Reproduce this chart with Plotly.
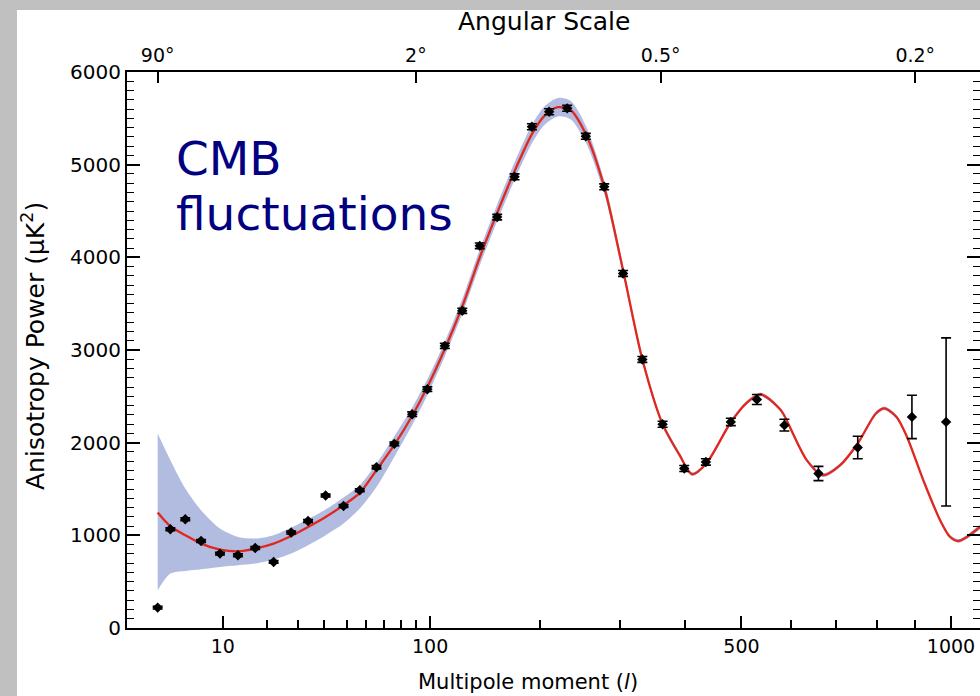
import plotly.graph_objects as go

# ---------------- data ----------------
data_l = [2, 3, 4.5, 6.5, 9.5, 13, 17, 22, 27.5, 33.5, 40.5, 48.5, 56.5, 65.5, 76,
          87.5, 98, 111, 125, 140, 156, 173, 191, 210, 231, 254, 278, 304, 332, 363,
          398, 435, 480, 530, 586, 660, 752, 891, 986]
data_v = [220, 1066, 1174, 939, 803, 785, 864, 713, 1030, 1155, 1430, 1317, 1487, 1735, 1987,
          2307, 2577, 3045, 3423, 4124, 4434, 4869, 5409, 5571, 5608, 5306, 4761, 3826, 2898, 2199,
          1721, 1792, 2224, 2466, 2189, 1667, 1948, 2278, 2224]
data_err = [15, 15, 15, 15, 15, 15, 15, 15, 15, 15, 15, 15, 15, 18, 20,
            25, 25, 28, 28, 30, 30, 32, 32, 32, 32, 32, 32, 32, 32, 32,
            32, 34, 40, 54, 63, 77, 122, 234, 907]

curve_l = [2, 3, 4.5, 6.5, 9.5, 13, 17, 22, 27.5, 33.5, 40.5, 48.5, 56.5, 65.5, 76,
           87.5, 98, 111, 125, 140, 156, 173, 191, 205, 220, 235, 254, 278, 304, 332,
           363, 390, 411, 435, 480, 510, 538, 577, 586, 634, 670, 710, 752, 797, 819,
           850, 877, 922, 969, 997, 1022, 1047, 1086]
curve_v = [1246, 1098, 1001, 911, 846, 828, 857, 911, 993, 1090, 1198, 1325, 1458, 1703, 1975,
           2290, 2600, 3010, 3470, 4000, 4480, 4930, 5330, 5530, 5620, 5590, 5330, 4760, 3860, 2900,
           2200, 1870, 1660, 1770, 2220, 2430, 2520, 2360, 2290, 1811, 1649, 1757, 1991, 2315, 2369,
           2278, 2070, 1595, 1163, 985, 939, 983, 1090]
band_hi = [2099, 1811, 1505, 1271, 1073, 983, 965, 1001, 1084, 1174, 1278, 1408, 1541, 1775, 2070,
           2380, 2685, 3090, 3550, 4085, 4570, 5025, 5430, 5630, 5720, 5690, 5420, 4830, 3910, 2940,
           2230, 1895, 1680, 1790, 2240, 2450, 2540, 2380, 2310, 1830, 1668, 1777, 2011, 2335, 2389,
           2298, 2090, 1615, 1183, 1005, 959, 1003, 1110]
band_lo = [407, 587, 615, 634, 659, 677, 695, 738, 803, 893, 1001, 1127, 1289, 1522, 1846,
           2190, 2515, 2930, 3390, 3915, 4390, 4835, 5230, 5430, 5520, 5490, 5240, 4690, 3810, 2860,
           2170, 1845, 1640, 1750, 2200, 2410, 2500, 2340, 2270, 1791, 1629, 1737, 1971, 2295, 2349,
           2258, 2050, 1575, 1143, 965, 919, 963, 1070]

bottom_major = [10, 100, 500, 1000]
bottom_major_text = ["10", "100", "500", "1000"]
bottom_minor = [20, 30, 40, 50, 60, 70, 80, 90, 200, 300, 400, 600, 700, 800, 900]
top_l = [2, 90, 360, 900]
top_text = ["90°", "2°", "0.5°", "0.2°"]
y_major = [0, 1000, 2000, 3000, 4000, 5000, 6000]
l_range = [0.5, 1086]

# ---------------- axis scale (multipole axis is linear in l^0.4) ----------------
P = 0.4
def sx(l):
    return l ** P

# ---------------- layout geometry ----------------
W, H = 980, 696
ML, MR, MT, MB = 127, 0, 72, 68
PW, PH = W - ML - MR, H - MT - MB
def px_x(px):
    return (px - ML) / PW
def px_y(py):
    return (H - MB - py) / PH

FONT = "DejaVu Sans"
GRAY = "#c0c0c0"
NBSP = "\u00a0"

fig = go.Figure()

# cosmic-variance band
band_x = [sx(l) for l in curve_l] + [sx(l) for l in curve_l[::-1]]
band_y = band_hi + band_lo[::-1]
fig.add_trace(go.Scatter(x=band_x, y=band_y, mode="lines", fill="toself",
                         fillcolor="rgb(178,187,224)", line=dict(width=0, shape="spline", smoothing=0.8),
                         hoverinfo="skip", showlegend=False))

# model curve
fig.add_trace(go.Scatter(x=[sx(l) for l in curve_l], y=curve_v, mode="lines",
                         line=dict(color="#e0281e", width=2.3, shape="spline", smoothing=0.8),
                         showlegend=False))

# data points
fig.add_trace(go.Scatter(x=[sx(l) for l in data_l], y=data_v, mode="markers",
                         marker=dict(symbol="diamond", size=8, color="black"),
                         error_y=dict(type="data", array=data_err, visible=True,
                                      color="black", thickness=1.6, width=5),
                         showlegend=False))

# dummy trace on the top (angular scale) axis
fig.add_trace(go.Scatter(x=[sx(l_range[0])], y=[None], xaxis="x2", yaxis="y",
                         mode="markers", showlegend=False, hoverinfo="skip"))

xr = [sx(l_range[0]), sx(l_range[1])]

fig.update_layout(
    template="none",
    width=W, height=H,
    margin=dict(l=ML, r=MR, t=MT, b=MB, pad=0),
    paper_bgcolor="white",
    plot_bgcolor="white",
    font=dict(family=FONT, color="black"),
    showlegend=False,
    xaxis=dict(range=xr, tickmode="array",
               tickvals=[sx(v) for v in bottom_major], ticktext=bottom_major_text,
               ticks="inside", ticklen=12, tickwidth=1.6, tickcolor="black",
               showline=True, linecolor="black", linewidth=2, mirror=False,
               showgrid=False, zeroline=False, tickfont=dict(size=19, family=FONT),
               minor=dict(tickvals=[sx(v) for v in bottom_minor], ticks="inside",
                          ticklen=8, tickwidth=1.6, tickcolor="black", showgrid=False)),
    xaxis2=dict(range=xr, overlaying="x", side="top", anchor="y", tickmode="array",
                tickvals=[sx(v) for v in top_l], ticktext=top_text,
                ticks="inside", ticklen=11, tickwidth=1.6, tickcolor="black",
                showline=True, linecolor="black", linewidth=2,
                showgrid=False, zeroline=False, tickfont=dict(size=19, family=FONT)),
    yaxis=dict(range=[0, 6000], tickmode="array", tickvals=y_major,
               ticktext=[str(v) for v in y_major], ticksuffix=NBSP * 3,
               ticks="inside", ticklen=13, tickwidth=1.6, tickcolor="black",
               showline=True, linecolor="black", linewidth=2, mirror="ticks",
               showgrid=False, zeroline=False, tickfont=dict(size=20, family=FONT),
               minor=dict(dtick=100, ticks="inside", ticklen=7, tickwidth=1.4,
                          tickcolor="black", showgrid=False)),
    shapes=[
        dict(type="rect", xref="paper", yref="paper", layer="above",
             x0=px_x(-5), x1=px_x(17), y0=px_y(H + 5), y1=px_y(-5),
             fillcolor=GRAY, line=dict(width=0)),
        dict(type="rect", xref="paper", yref="paper", layer="above",
             x0=px_x(-5), x1=px_x(W + 5), y0=px_y(10), y1=px_y(-5),
             fillcolor=GRAY, line=dict(width=0)),
    ],
    annotations=[
        dict(text="Angular Scale", x=px_x(544), y=px_y(22), xref="paper", yref="paper",
             xanchor="center", yanchor="middle", showarrow=False,
             font=dict(size=25, family=FONT, color="black")),
        dict(text="Multipole moment (<i>l</i>)", x=px_x(528), y=px_y(682), xref="paper", yref="paper",
             xanchor="center", yanchor="middle", showarrow=False,
             font=dict(size=21, family=FONT, color="black")),
        dict(text="Anisotropy Power (µK<sup>2</sup>)", x=px_x(33), y=px_y(346),
             xref="paper", yref="paper", xanchor="center", yanchor="middle",
             textangle=-90, showarrow=False,
             font=dict(size=25, family=FONT, color="black")),
        dict(text="CMB", x=px_x(174), y=px_y(158.7), xref="paper", yref="paper",
             xanchor="left", yanchor="middle", showarrow=False,
             font=dict(size=47, family=FONT, color="#000080")),
        dict(text="fluctuations", x=px_x(174), y=px_y(213.7), xref="paper", yref="paper",
             xanchor="left", yanchor="middle", showarrow=False,
             font=dict(size=47, family=FONT, color="#000080")),
    ],
)

fig.write_html("out.html")
